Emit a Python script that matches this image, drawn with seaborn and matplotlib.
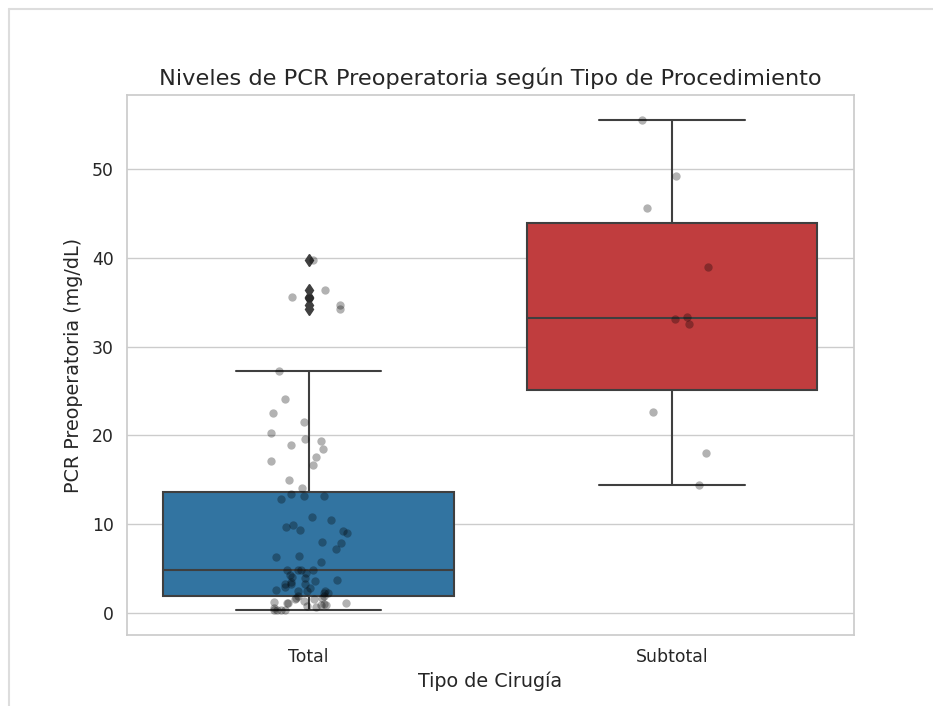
import matplotlib
matplotlib.use("Agg")
import matplotlib.pyplot as plt
from matplotlib.lines import Line2D
import numpy as np
import pandas as pd
import seaborn as sns

# PCR preoperatoria (mg/dL)
total_pcr = [
    39.8, 36.4, 35.6, 35.5, 34.7, 34.2,
    27.3, 24.1, 22.5, 21.5, 20.3, 19.6, 19.3, 18.9, 18.5, 17.5, 17.1, 16.7,
    15.0, 14.1, 13.4, 13.2, 13.2, 12.8, 10.8, 10.5, 9.9, 9.7, 9.3, 9.2, 9.0,
    8.0, 7.9, 7.2, 6.4, 6.3, 5.7, 4.8, 4.8, 4.8, 4.8, 4.5, 4.2, 4.0, 3.9,
    3.7, 3.6, 3.5, 3.2, 3.2, 3.2, 2.9, 2.8, 2.6, 2.4, 2.4, 2.4, 2.2, 2.2,
    1.9, 1.9, 1.7, 1.7, 1.5, 1.5, 1.3, 1.2, 1.1, 1.1, 1.1, 1.0, 0.9, 0.9,
    0.7, 0.6, 0.5, 0.3, 0.3, 0.3, 0.25,
]
subtotal_pcr = [55.6, 49.2, 45.6, 39.0, 33.3, 33.1, 32.5, 22.6, 18.0, 14.4]

categories = ["Total", "Subtotal"]
box_colors = ["tab:blue", "tab:red"]

df = pd.DataFrame({
    "Tipo de Cirugía": ["Total"] * len(total_pcr) + ["Subtotal"] * len(subtotal_pcr),
    "PCR": total_pcr + subtotal_pcr,
})

sns.set_theme(style="whitegrid")
np.random.seed(3)

fig = plt.figure(figsize=(9.33, 7.06), dpi=100)
ax = fig.add_axes([0.136, 0.1006, 0.779, 0.7648])

sns.boxplot(data=df, x="Tipo de Cirugía", y="PCR", order=categories,
            hue="Tipo de Cirugía", hue_order=categories, palette=box_colors,
            legend=False, ax=ax, linewidth=1.5, linecolor="#3f3f3f",
            flierprops=dict(marker="d", markerfacecolor="#3f3f3f",
                            markeredgecolor="#3f3f3f", markersize=6))
sns.stripplot(data=df, x="Tipo de Cirugía", y="PCR", order=categories,
              color="black", alpha=0.3, jitter=0.11, size=6, ax=ax)

ax.set_title("Niveles de PCR Preoperatoria según Tipo de Procedimiento",
             fontsize=16.2, pad=7)
ax.set_xlabel("Tipo de Cirugía", fontsize=13.8)
ax.set_ylabel("PCR Preoperatoria (mg/dL)", fontsize=13.8, labelpad=6)
ax.tick_params(labelsize=12.4)

# notebook cell frame
fig.add_artist(Line2D([0.0096, 1], [0.987, 0.987], color="#dddddd", lw=1.5))
fig.add_artist(Line2D([0.0096, 0.0096], [0, 0.987], color="#dddddd", lw=1.5))

fig.savefig("out.png", dpi=100)
